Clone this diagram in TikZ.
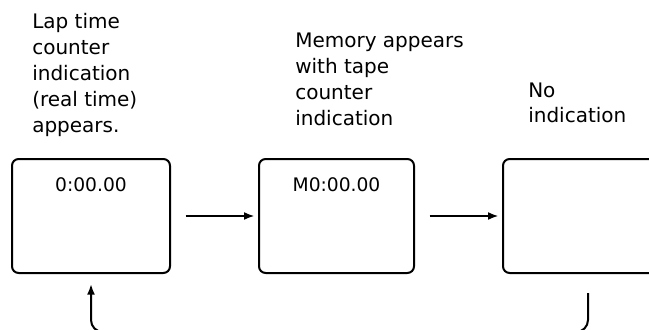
\documentclass[tikz,border=0pt]{standalone}
\usepackage{fontspec}
\setmainfont{DejaVu Sans}
\usetikzlibrary{arrows.meta, positioning, calc}

\begin{document}
\begin{tikzpicture}[
  x=0.75pt, y=0.75pt,
  screen/.style={draw, line width=1.5pt, rounded corners=5pt, minimum height=85.5pt, inner sep=0pt},
  note/.style={align=left, inner sep=0pt, anchor=base west, font=\fontsize{15}{19.5}\selectfont},
  readout/.style={inner sep=0pt, anchor=base, font=\fontsize{14}{16}\selectfont},
  flow/.style={draw, line width=1.5pt, -{Latex[length=8pt, width=6pt]}}
]
\useasboundingbox (0,0) rectangle (649,329);

% Displays
\node[screen, minimum width=118.5pt] (lap) at (91,113) {};
\node[screen, minimum width=116.25pt] (memo) at (336.5,113) {};
\node[screen, minimum width=127.5pt] (blank) at (588,113) {};

% Readouts
\node[readout] (lapval) at ([yshift=-24.75pt]lap.north) {0:00.00};
\node[readout] (memoval) at ([yshift=-24.75pt]memo.north) {M0:00.00};

% Notes (anchored on the last line)
\node[note] (lapnote) at (32,197) {Lap time\\counter\\indication\\(real time)\\appears.};
\node[note] (memonote) at (295,204) {Memory appears\\with tape\\counter\\indication};
\node[note] (blanknote) at (528,206) {No\\indication};

% Connections
\draw[flow, shorten <=11pt, shorten >=2.5pt] (lap) -- (memo);
\draw[flow, shorten <=11pt, shorten >=2.5pt] (memo) -- (blank);

\coordinate (floor) at (336,-3);
\draw[flow, rounded corners=9pt, shorten <=14.25pt, shorten >=7.5pt] (blank.south) |- (floor) -| (lap.south);

\end{tikzpicture}
\end{document}
